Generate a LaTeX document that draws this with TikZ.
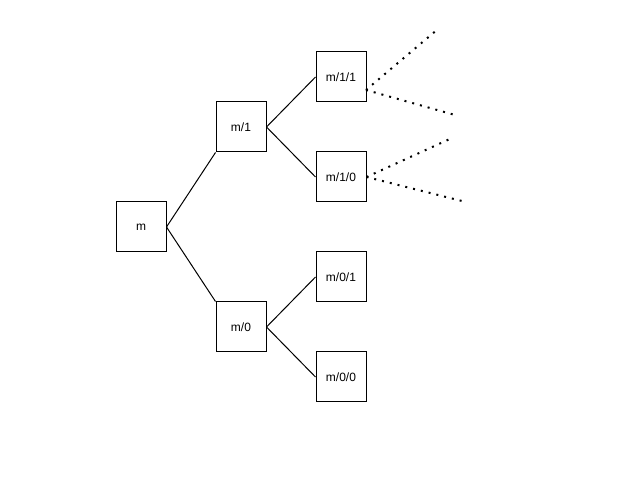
\documentclass[tikz,border=0pt]{standalone}
\usepackage{fontspec}
\setmainfont{Liberation Sans}
\begin{document}
\begin{tikzpicture}[x=0.75pt,y=-0.75pt,
  box/.style={draw,line width=0.75pt,minimum width=37.5pt,minimum height=37.5pt,inner sep=0pt,font=\fontsize{9}{10}\selectfont},
  ln/.style={line width=0.75pt},
  dt/.style={line width=1.5pt,dash pattern=on 1.5pt off 4.5pt}]
\useasboundingbox (0,0) rectangle (637,485);
\node[box] (m) at (141,227) {m};
\node[box] (m1) at (241,127) {m/1};
\node[box] (m0) at (241,327) {m/0};
\node[box] (m11) at (341,77) {m/1/1};
\node[box] (m10) at (341,177) {m/1/0};
\node[box] (m01) at (341,277) {m/0/1};
\node[box] (m00) at (341,377) {m/0/0};
\coordinate (a) at (438,29);
\coordinate (b) at (455,115);
\coordinate (c) at (452,138);
\coordinate (d) at (466,202);
\coordinate (s1) at (366,90);
\draw[ln] (m.east) -- (m1.south west);
\draw[ln] (m.east) -- (m0.north west);
\draw[ln] (m1.east) -- (m11.west);
\draw[ln] (m1.east) -- (m10.west);
\draw[ln] (m0.east) -- (m01.west);
\draw[ln] (m0.east) -- (m00.west);
\draw[dt] (s1) -- (a);
\draw[dt] (s1) -- (b);
\draw[dt] (m10.east) -- (c);
\draw[dt] (m10.east) -- (d);
\end{tikzpicture}
\end{document}
